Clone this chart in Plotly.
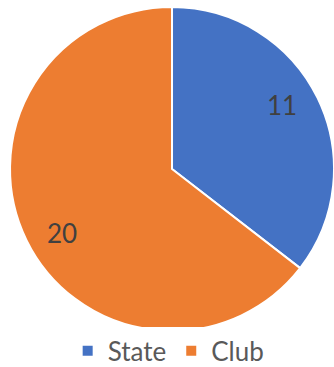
import plotly.graph_objects as go

# Slice data
categories = ["State", "Club"]
counts = [11, 20]
colors = ["#4472C4", "#ED7D31"]

pie_domain = dict(x=[0.03, 1.0], y=[0.0981, 0.9809])

fig = go.Figure()

# Filled slices with white separators
fig.add_trace(
    go.Pie(
        labels=categories,
        values=counts,
        sort=False,
        direction="clockwise",
        rotation=0,
        marker=dict(colors=colors, line=dict(color="white", width=2)),
        textinfo="none",
        domain=pie_domain,
        hoverinfo="label+value",
    )
)

# Transparent ring on top carrying the value labels, so they sit
# toward the outer part of each slice
fig.add_trace(
    go.Pie(
        labels=categories,
        values=counts,
        sort=False,
        direction="clockwise",
        rotation=-4,
        hole=0.57,
        marker=dict(colors=["rgba(0,0,0,0)"] * 2, line=dict(width=0)),
        textinfo="value",
        textposition="inside",
        insidetextorientation="horizontal",
        textfont=dict(family="Lato", size=26, color="#404040"),
        domain=pie_domain,
        showlegend=False,
        hoverinfo="skip",
    )
)

fig.update_layout(
    width=334,
    height=367,
    margin=dict(l=0, r=0, t=0, b=0, autoexpand=False),
    paper_bgcolor="white",
    plot_bgcolor="white",
    showlegend=True,
    legend=dict(
        orientation="h",
        x=0.505,
        xanchor="center",
        y=-0.02,
        yanchor="bottom",
        font=dict(family="Lato", size=26, color="#595959"),
        itemsizing="constant",
    ),
)

fig.write_html("out.html")
